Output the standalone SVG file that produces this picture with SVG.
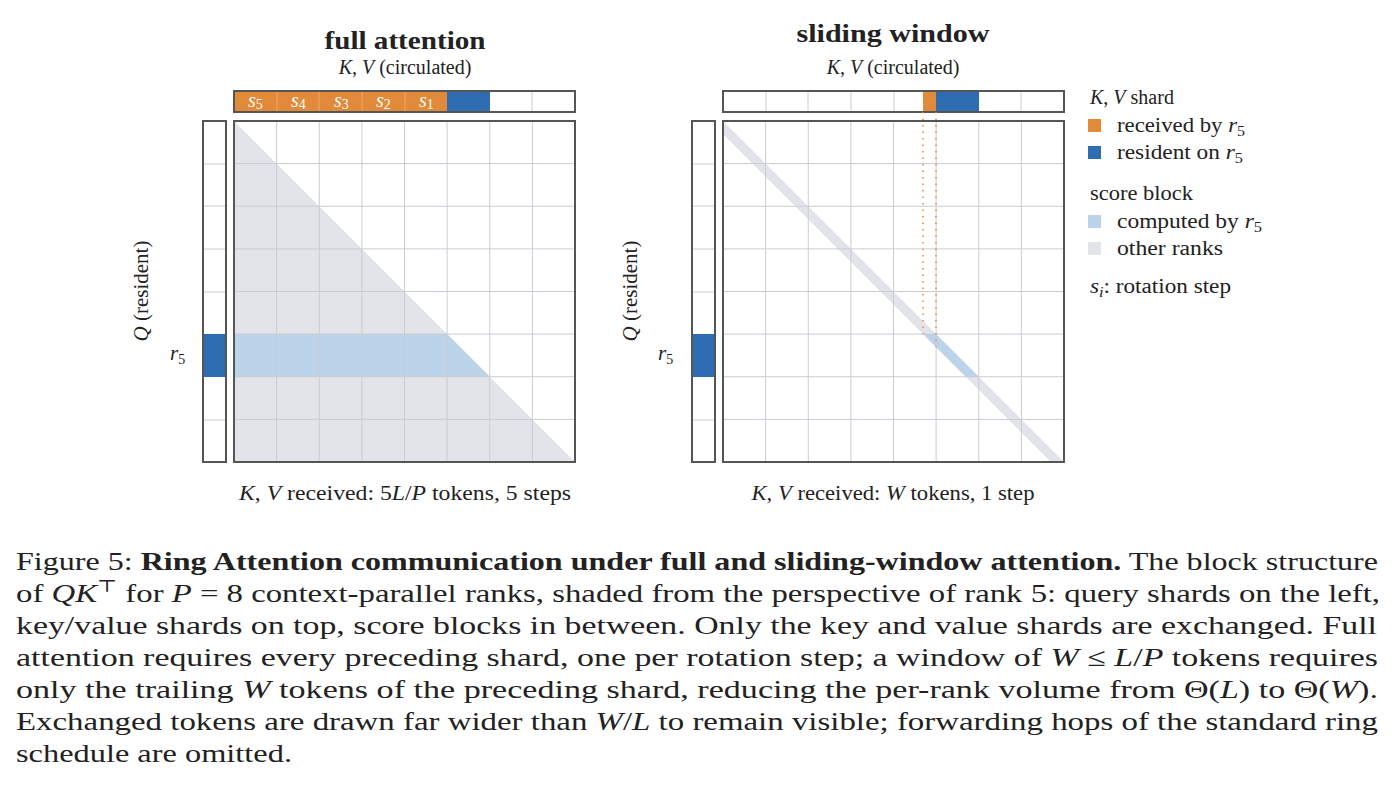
<svg xmlns="http://www.w3.org/2000/svg" width="1397" height="795" viewBox="0 0 1397 795">
<style>
.t{font-family:"Liberation Serif","DejaVu Serif",serif;fill:#222}
.i{font-style:italic}
.frame{fill:none;stroke:#555;stroke-width:2}
.grid{stroke:#c9ccd3;stroke-width:1}
.or{fill:#e08a3a}.bl{fill:#2f6db3}.lb{fill:#bcd4ea}.gr{fill:#e2e4ea}
.w{fill:#fff;font-family:"Liberation Serif",serif;font-style:italic;font-size:20px}
</style>
<defs>
<g id="grid8">
<path class="grid" d="M42.6 0V341M85.25 0V341M127.9 0V341M170.5 0V341M213.1 0V341M255.75 0V341M298.4 0V341M0 42.6H341M0 85.25H341M0 127.9H341M0 170.5H341M0 213.1H341M0 255.75H341M0 298.4H341"/>
</g>
</defs>
<rect width="1397" height="795" fill="#fff"/>
<g id="left">
<text class="t" x="405" y="49" font-size="25" font-weight="bold" text-anchor="middle" textLength="161" lengthAdjust="spacingAndGlyphs">full attention</text>
<text class="t" x="405" y="74" font-size="20" text-anchor="middle"><tspan class="i">K</tspan>, <tspan class="i">V</tspan> (circulated)</text>
<rect class="or" x="234" y="91" width="213" height="21"/>
<rect class="bl" x="447" y="91" width="43" height="21"/>
<path d="M277 91V112M319 91V112M362 91V112M405 91V112" stroke="#eaa76a" stroke-width="1"/>
<path class="grid" d="M532 91V112"/>
<rect class="frame" x="234" y="91" width="341" height="21"/>
<text class="w" x="248" y="107">s<tspan font-size="14" font-style="normal" dy="2">5</tspan></text>
<text class="w" x="291" y="107">s<tspan font-size="14" font-style="normal" dy="2">4</tspan></text>
<text class="w" x="334" y="107">s<tspan font-size="14" font-style="normal" dy="2">3</tspan></text>
<text class="w" x="376" y="107">s<tspan font-size="14" font-style="normal" dy="2">2</tspan></text>
<text class="w" x="419" y="107">s<tspan font-size="14" font-style="normal" dy="2">1</tspan></text>
<rect class="bl" x="203" y="334" width="23" height="43"/>
<path class="grid" d="M203 164H226M203 206H226M203 249H226M203 292H226M203 420H226"/>
<rect class="frame" x="203" y="121" width="23" height="341"/>
<polygon class="gr" points="234,121 575,462 234,462"/>
<polygon class="lb" points="234,334 447,334 490,377 234,377"/>
<use href="#grid8" x="234" y="121"/>
<rect class="frame" x="234" y="121" width="341" height="341"/>
<text class="t" x="148" y="291" font-size="21" text-anchor="middle" transform="rotate(-90 148 291)"><tspan class="i">Q</tspan> (resident)</text>
<text class="t i" x="170" y="360" font-size="21">r<tspan font-size="14" font-style="normal" dy="4">5</tspan></text>
<text class="t" x="405" y="500" font-size="20" text-anchor="middle" textLength="332" lengthAdjust="spacingAndGlyphs"><tspan class="i">K</tspan>, <tspan class="i">V</tspan> received: 5<tspan class="i">L</tspan>/<tspan class="i">P</tspan> tokens, 5 steps</text>
</g>
<g id="right">
<text class="t" x="893" y="42" font-size="25" font-weight="bold" text-anchor="middle" textLength="193" lengthAdjust="spacingAndGlyphs">sliding window</text>
<text class="t" x="893" y="74" font-size="20" text-anchor="middle"><tspan class="i">K</tspan>, <tspan class="i">V</tspan> (circulated)</text>
<rect class="or" x="923" y="91" width="13" height="21"/>
<rect class="bl" x="936" y="91" width="43" height="21"/>
<path class="grid" d="M766 91V112M808 91V112M851 91V112M894 91V112M1021 91V112"/>
<rect class="frame" x="723" y="91" width="341" height="21"/>
<rect class="bl" x="692" y="334" width="23" height="43"/>
<path class="grid" d="M692 164H715M692 206H715M692 249H715M692 292H715M692 420H715"/>
<rect class="frame" x="692" y="121" width="23" height="341"/>
<polygon class="gr" points="723,121 1064,462 1051,462 723,134"/>
<polygon class="lb" points="923,334 936,334 979,377 966,377"/>
<use href="#grid8" x="723" y="121"/>
<path d="M923 112V334M936 112V347" stroke="#e08a3a" stroke-width="1.5" stroke-dasharray="1.5 5" fill="none"/>
<rect class="frame" x="723" y="121" width="341" height="341"/>
<text class="t" x="637" y="291" font-size="21" text-anchor="middle" transform="rotate(-90 637 291)"><tspan class="i">Q</tspan> (resident)</text>
<text class="t i" x="658" y="360" font-size="21">r<tspan font-size="14" font-style="normal" dy="4">5</tspan></text>
<text class="t" x="893" y="500" font-size="20" text-anchor="middle" textLength="283" lengthAdjust="spacingAndGlyphs"><tspan class="i">K</tspan>, <tspan class="i">V</tspan> received: <tspan class="i">W</tspan> tokens, 1 step</text>
</g>
<g id="legend" class="t" font-size="20">
<text x="1090" y="104"><tspan class="i">K</tspan>, <tspan class="i">V</tspan> shard</text>
<rect class="or" x="1088" y="119" width="13" height="13"/>
<text x="1117" y="132" textLength="128" lengthAdjust="spacingAndGlyphs">received by <tspan class="i">r</tspan><tspan font-size="14" dy="4">5</tspan></text>
<rect class="bl" x="1088" y="146" width="13" height="13"/>
<text x="1117" y="159" textLength="126" lengthAdjust="spacingAndGlyphs">resident on <tspan class="i">r</tspan><tspan font-size="14" dy="4">5</tspan></text>
<text x="1090" y="200" textLength="103" lengthAdjust="spacingAndGlyphs">score block</text>
<rect class="lb" x="1088" y="215" width="13" height="13"/>
<text x="1117" y="228" textLength="145" lengthAdjust="spacingAndGlyphs">computed by <tspan class="i">r</tspan><tspan font-size="14" dy="4">5</tspan></text>
<rect class="gr" x="1088" y="242" width="13" height="13"/>
<text x="1117" y="255" textLength="106" lengthAdjust="spacingAndGlyphs">other ranks</text>
<text x="1090" y="293" textLength="141" lengthAdjust="spacingAndGlyphs"><tspan class="i">s</tspan><tspan class="i" font-size="14" dy="4">i</tspan><tspan dy="-4">: rotation step</tspan></text>
</g>
<g id="caption" class="t" font-size="26">
<text x="16" y="570" textLength="1362" lengthAdjust="spacingAndGlyphs">Figure 5: <tspan font-weight="bold">Ring Attention communication under full and sliding-window attention.</tspan> The block structure</text>
<text x="16" y="602" textLength="1364" lengthAdjust="spacingAndGlyphs">of <tspan class="i">QK</tspan><tspan font-size="17" dy="-10">⊤</tspan><tspan dy="10"> for </tspan><tspan class="i">P</tspan> = 8 context-parallel ranks, shaded from the perspective of rank 5: query shards on the left,</text>
<text x="16" y="634" textLength="1361" lengthAdjust="spacingAndGlyphs">key/value shards on top, score blocks in between. Only the key and value shards are exchanged. Full</text>
<text x="16" y="666" textLength="1362" lengthAdjust="spacingAndGlyphs">attention requires every preceding shard, one per rotation step; a window of <tspan class="i">W</tspan> ≤ <tspan class="i">L</tspan>/<tspan class="i">P</tspan> tokens requires</text>
<text x="16" y="698" textLength="1362" lengthAdjust="spacingAndGlyphs">only the trailing <tspan class="i">W</tspan> tokens of the preceding shard, reducing the per-rank volume from Θ(<tspan class="i">L</tspan>) to Θ(<tspan class="i">W</tspan>).</text>
<text x="16" y="730" textLength="1362" lengthAdjust="spacingAndGlyphs">Exchanged tokens are drawn far wider than <tspan class="i">W</tspan>/<tspan class="i">L</tspan> to remain visible; forwarding hops of the standard ring</text>
<text x="16" y="762" textLength="276" lengthAdjust="spacingAndGlyphs">schedule are omitted.</text>
</g>
</svg>
